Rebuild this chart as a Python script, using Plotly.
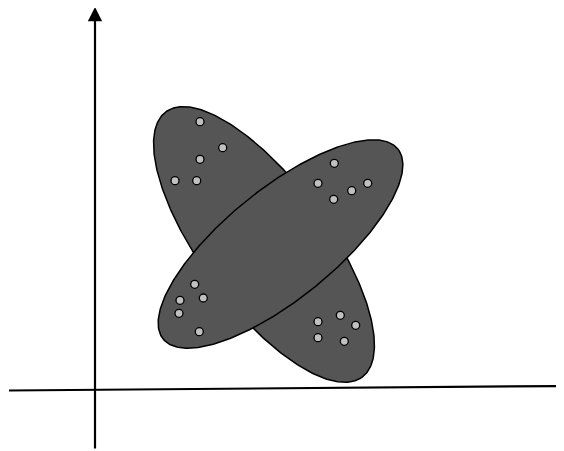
import numpy as np
import plotly.graph_objects as go

# Ellipse parameters (center x, center y, semi-major, semi-minor, angle deg)
ellipse_names = ["A", "B"]
ellipse_cx = [169, 185.5]
ellipse_cy = [143.5, 144]
ellipse_a = [165, 151]
ellipse_b = [63, 55]
ellipse_angle = [-53.5, 39]

# Scatter points (data coords, origin at axis crossing)
point_x = [105, 127.7, 105, 80, 101.7,
           239.3, 223, 272.7, 256.7, 238.7,
           99.7, 108.3, 85, 84, 104.3,
           245.3, 223, 260.7, 223, 249.3]
point_y = [266.3, 240.3, 228.7, 207.3, 207.3,
           224.7, 204.7, 204.7, 197.3, 188.7,
           103.7, 90, 87.7, 74.7, 56.3,
           72.7, 66.3, 62.7, 50.3, 46.7]

fig = go.Figure()

t = np.linspace(0, 2 * np.pi, 400)
for cx, cy, a, b, ang in zip(ellipse_cx, ellipse_cy, ellipse_a, ellipse_b, ellipse_angle):
    th = np.deg2rad(ang)
    ex = cx + a * np.cos(t) * np.cos(th) - b * np.sin(t) * np.sin(th)
    ey = cy + a * np.cos(t) * np.sin(th) + b * np.sin(t) * np.cos(th)
    fig.add_trace(go.Scatter(x=ex, y=ey, mode="lines", fill="toself",
                             fillcolor="#555555",
                             line=dict(color="black", width=1.5),
                             hoverinfo="skip", showlegend=False))

fig.add_trace(go.Scatter(x=point_x, y=point_y, mode="markers",
                         marker=dict(size=8, color="#c0c0c0",
                                     line=dict(color="black", width=1.3)),
                         showlegend=False))

# Axes lines
fig.add_shape(type="line", x0=-86, y0=-2.5, x1=467, y1=2,
              line=dict(color="black", width=2.2))
fig.add_annotation(x=0, y=381, ax=0, ay=-62, xref="x", yref="y",
                   axref="x", ayref="y", text="", showarrow=True,
                   arrowhead=2, arrowsize=1.3, arrowwidth=2.2,
                   arrowcolor="black")

fig.update_layout(width=556, height=443, margin=dict(l=0, r=0, t=0, b=0),
                  plot_bgcolor="white", paper_bgcolor="white",
                  xaxis=dict(range=[-87, 469], visible=False, fixedrange=True),
                  yaxis=dict(range=[-63, 380], visible=False, fixedrange=True))

fig.write_html("out.html")
